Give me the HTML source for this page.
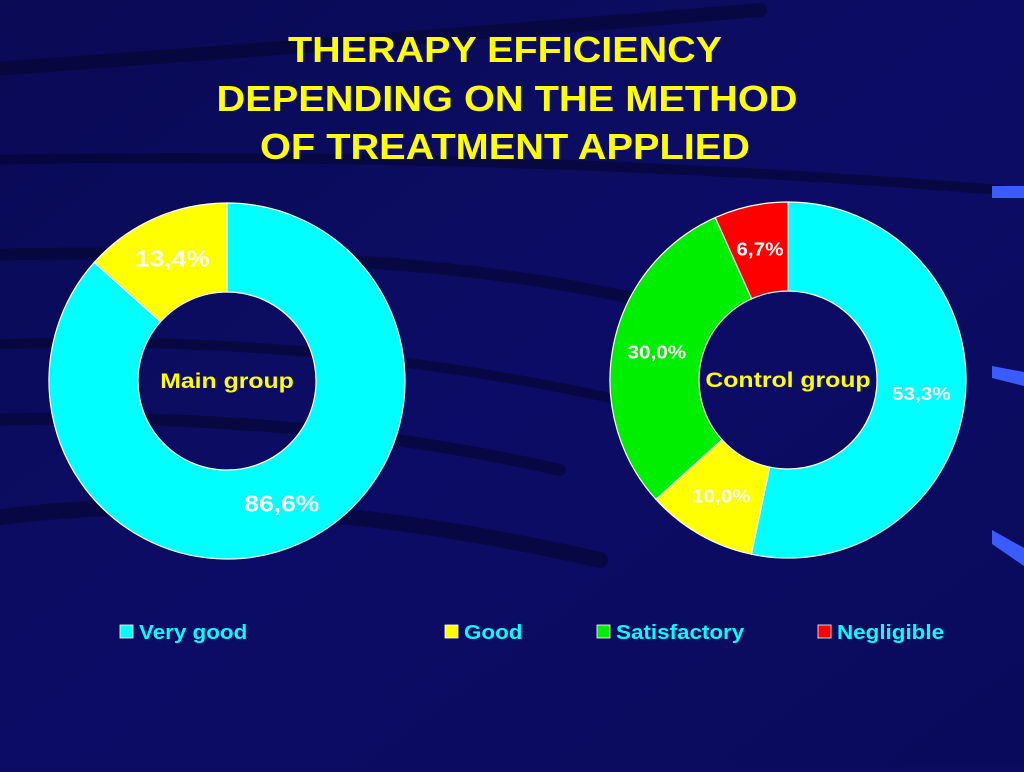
<!DOCTYPE html>
<html><head><meta charset="utf-8"><style>
html,body{margin:0;padding:0}
body{width:1024px;height:767px;overflow:hidden;background:#0b0b62;font-family:"Liberation Sans",sans-serif}
</style></head><body>
<svg width="1024" height="767" viewBox="0 0 1024 767" xmlns="http://www.w3.org/2000/svg">
<defs>
<linearGradient id="bg" x1="0" y1="0" x2="1" y2="1">
<stop offset="0" stop-color="#0a0a55"/><stop offset="0.5" stop-color="#0c0c66"/><stop offset="1" stop-color="#0a0a5c"/>
</linearGradient>
</defs>
<rect width="1024" height="767" fill="url(#bg)"/>
<g fill="none" stroke="#05052e" stroke-linecap="round" opacity="0.6">
<path d="M-20 70 Q400 40 760 10" stroke-width="14"/>
<path d="M-20 160 Q500 150 1000 190" stroke-width="10"/>
<path d="M-20 255 Q400 245 640 300" stroke-width="12"/>
<path d="M-20 345 Q300 330 620 400" stroke-width="10"/>
<path d="M-20 420 Q300 410 560 470" stroke-width="12"/>
<path d="M-20 520 Q250 480 600 560" stroke-width="16"/>
</g>
<g fill="#3a5cff">
<rect x="992" y="186" width="32" height="12"/>
<polygon points="992,366 1024,372 1024,386 992,378"/>
<polygon points="992,530 1024,548 1024,566 992,544"/>
</g>
<g font-weight="bold" font-size="36" fill="#ffff00" text-anchor="middle">
<text x="505" y="62" textLength="434" lengthAdjust="spacingAndGlyphs">THERAPY EFFICIENCY</text>
<text x="507" y="111" textLength="581" lengthAdjust="spacingAndGlyphs">DEPENDING ON THE METHOD</text>
<text x="505" y="159" textLength="490" lengthAdjust="spacingAndGlyphs">OF TREATMENT APPLIED</text>
</g>
<g id="charts"></g>
<g font-weight="bold" font-size="20" id="legend"></g>
</svg>
<script>
const categories = ["Very good", "Good", "Satisfactory", "Negligible"];
const colors = ["#00ffff", "#ffff00", "#00ee00", "#ff0000"];
const mainValues = [86.6, 13.4, 0, 0];
const controlValues = [53.3, 10.0, 30.0, 6.7];
const mainLabels = ["86,6%", "13,4%", "", ""];
const controlLabels = ["53,3%", "10,0%", "30,0%", "6,7%"];
const groupNames = ["Main group", "Control group"];

const NS = "http://www.w3.org/2000/svg";
const root = document.getElementById("charts");
function mk(tag, attrs, parent) {
  const e = document.createElementNS(NS, tag);
  for (const k in attrs) e.setAttribute(k, attrs[k]);
  parent.appendChild(e);
  return e;
}
function widen(t, W) {
  const w = t.getComputedTextLength();
  t.setAttribute("textLength", w * W);
  t.setAttribute("lengthAdjust", "spacingAndGlyphs");
}
function pt(cx, cy, r, a) { return [cx + r * Math.sin(a), cy - r * Math.cos(a)]; }
function donut(cx, cy, values, labels, name, fs, slug) {
  const g = mk("g", {}, root);
  
  
  const total = values.reduce((a, b) => a + b, 0);
  const R = 178, r = 89;
  let acc = 0;
  values.forEach((v, i) => {
    if (v <= 0) return;
    const a0 = acc / total * 2 * Math.PI, a1 = (acc + v) / total * 2 * Math.PI;
    acc += v;
    const large = a1 - a0 > Math.PI ? 1 : 0;
    const [x0, y0] = pt(cx, cy, R, a0), [x1, y1] = pt(cx, cy, R, a1);
    const [x2, y2] = pt(cx, cy, r, a1), [x3, y3] = pt(cx, cy, r, a0);
    const p = mk("path", {d: `M${x0} ${y0} A${R} ${R} 0 ${large} 1 ${x1} ${y1} L${x2} ${y2} A${r} ${r} 0 ${large} 0 ${x3} ${y3} Z`, fill: colors[i], stroke: "#ffffff", "stroke-width": 1.2}, g);
    
    
    const am = (a0 + a1) / 2;
    const [lx, ly] = pt(cx, cy, 134, am);
    const t = mk("text", {x: lx, y: ly + fs * 0.35, "text-anchor": "middle", "font-weight": "bold", "font-size": fs, fill: "#ffffff"}, g);
    t.textContent = labels[i];
    
    
    widen(t, 1.15);
  });
  const c = mk("text", {x: cx, y: cy + 7, "text-anchor": "middle", "font-weight": "bold", "font-size": 21, fill: "#ffff00"}, g);
  c.textContent = name;
  
  
  widen(c, 1.18);
}
donut(227, 381, mainValues, mainLabels, groupNames[0], 23, "main-group");
donut(788, 380, controlValues, controlLabels, groupNames[1], 18, "control-group");

const lg = document.getElementById("legend");
const lx = [120, 445, 597, 818];
categories.forEach((c, i) => {
  const g = mk("g", {}, lg);
  
  
  mk("rect", {x: lx[i], y: 625, width: 13, height: 13, fill: colors[i], stroke: "#ffffff", "stroke-width": 0.8}, g);
  const t = mk("text", {x: lx[i] + 19, y: 639, fill: "#00ffff"}, g);
  t.textContent = c;
  widen(t, 1.12);
});
</script>
</body></html>
